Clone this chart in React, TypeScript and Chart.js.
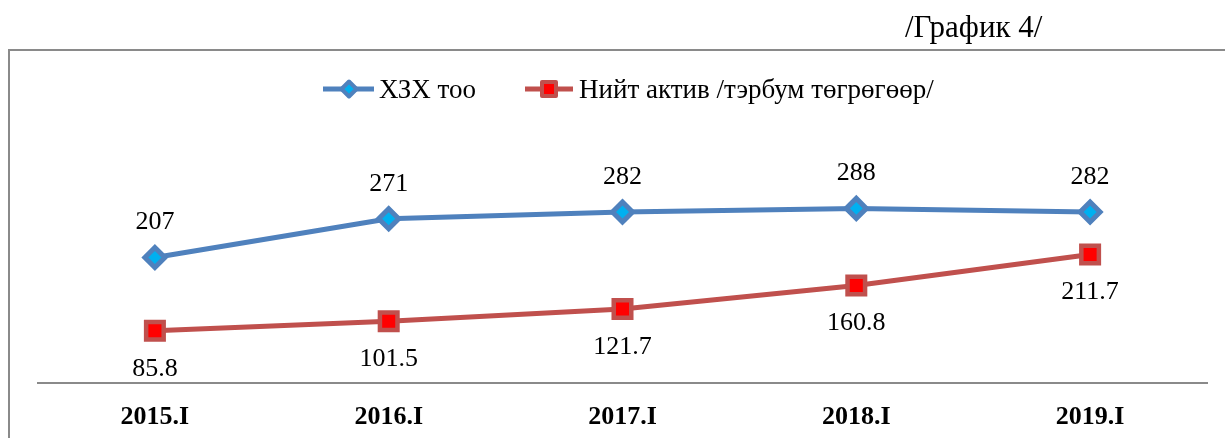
import React, { useEffect, useRef } from "react";
import { Chart, registerables } from "chart.js";

Chart.register(...registerables);

const categories = ["2015.I", "2016.I", "2017.I", "2018.I", "2019.I"];
const countValues = [207, 271, 282, 288, 282];
const assetValues = [85.8, 101.5, 121.7, 160.8, 211.7];
const countLabels = ["207", "271", "282", "288", "282"];
const assetLabels = ["85.8", "101.5", "121.7", "160.8", "211.7"];
const seriesNames = ["ХЗХ тоо", "Нийт актив /тэрбум төгрөгөөр/"];
const chartTitle = "/График 4/";

const FONT = "'Liberation Serif', 'Times New Roman', serif";
const BLUE = "#4F81BD";
const CYAN = "#00B0F0";
const RED = "#C0504D";
const RED_FILL = "#FF0000";

function diamond(ctx: CanvasRenderingContext2D, x: number, y: number, r: number, bw: number) {
  ctx.save();
  ctx.beginPath();
  ctx.moveTo(x - r, y);
  ctx.lineTo(x, y - r);
  ctx.lineTo(x + r, y);
  ctx.lineTo(x, y + r);
  ctx.closePath();
  ctx.fillStyle = CYAN;
  ctx.fill();
  ctx.lineWidth = bw;
  ctx.strokeStyle = BLUE;
  ctx.lineJoin = "round";
  ctx.stroke();
  ctx.restore();
}

function square(ctx: CanvasRenderingContext2D, x: number, y: number, h: number, bw: number) {
  ctx.save();
  ctx.beginPath();
  ctx.rect(x - h, y - h, 2 * h, 2 * h);
  ctx.fillStyle = RED_FILL;
  ctx.fill();
  ctx.lineWidth = bw;
  ctx.strokeStyle = RED;
  ctx.lineJoin = "round";
  ctx.stroke();
  ctx.restore();
}

const decorPlugin = {
  id: "decor",
  beforeDraw(chart: any) {
    const ctx: CanvasRenderingContext2D = chart.ctx;
    ctx.save();
    ctx.strokeStyle = "#8a8a8a";
    ctx.lineWidth = 2;
    ctx.strokeRect(9, 50, 1400, 600);
    ctx.restore();
  },
  afterDraw(chart: any) {
    const ctx: CanvasRenderingContext2D = chart.ctx;
    ctx.save();
    // title
    ctx.fillStyle = "#000";
    ctx.font = `31px ${FONT}`;
    ctx.textAlign = "left";
    ctx.textBaseline = "alphabetic";
    ctx.fillText(chartTitle, 905, 37);

    // legend
    const ly = 89;
    ctx.lineCap = "butt";
    ctx.lineWidth = 5;
    ctx.strokeStyle = BLUE;
    ctx.beginPath();
    ctx.moveTo(323, ly);
    ctx.lineTo(374, ly);
    ctx.stroke();
    diamond(ctx, 349, ly, 7.5, 4);
    ctx.strokeStyle = RED;
    ctx.beginPath();
    ctx.moveTo(525, ly);
    ctx.lineTo(573, ly);
    ctx.stroke();
    square(ctx, 549, ly, 7, 4);
    ctx.fillStyle = "#000";
    ctx.font = `27px ${FONT}`;
    ctx.textBaseline = "middle";
    ctx.fillText(seriesNames[0], 379, ly + 2);
    ctx.fillText(seriesNames[1], 579, ly + 2);

    // data labels
    ctx.font = `26px ${FONT}`;
    ctx.textAlign = "center";
    const m0 = chart.getDatasetMeta(0);
    const m1 = chart.getDatasetMeta(1);
    m0.data.forEach((p: any, i: number) => {
      ctx.fillText(countLabels[i], p.x, p.y - 35);
    });
    m1.data.forEach((p: any, i: number) => {
      ctx.fillText(assetLabels[i], p.x, p.y + 38);
    });
    ctx.restore();
  },
};

export default function App() {
  const ref = useRef<HTMLCanvasElement>(null);
  useEffect(() => {
    if (!ref.current) return;
    const chart = new Chart(ref.current, {
      type: "line",
      data: {
        labels: categories,
        datasets: [
          {
            label: seriesNames[0],
            data: countValues,
            borderColor: BLUE,
            borderWidth: 5,
            backgroundColor: CYAN,
            pointStyle: "rectRot",
            pointRadius: 10,
            pointBorderWidth: 5,
            pointBorderColor: BLUE,
            pointBackgroundColor: CYAN,
            tension: 0,
          },
          {
            label: seriesNames[1],
            data: assetValues,
            borderColor: RED,
            borderWidth: 5,
            backgroundColor: RED_FILL,
            pointStyle: "rect",
            pointRadius: 12.4,
            pointBorderWidth: 4.5,
            pointBorderColor: RED,
            pointBackgroundColor: RED_FILL,
            tension: 0,
          },
        ],
      },
      options: {
        responsive: false,
        maintainAspectRatio: false,
        animation: false,
        layout: { padding: { top: 80, left: 38, right: 18, bottom: -14 } },
        plugins: {
          legend: { display: false },
          title: { display: false },
          tooltip: { enabled: false },
        },
        elements: { line: { borderJoinStyle: "round" } },
        scales: {
          x: {
            offset: true,
            grid: { display: false, drawTicks: false },
            border: { display: true, color: "#8a8a8a", width: 2 },
            ticks: {
              color: "#000",
              padding: 19,
              font: { family: FONT, size: 26, weight: "bold" },
              maxRotation: 0,
            },
          },
          y: {
            display: false,
            min: 0,
            max: 500,
          },
        },
      },
      plugins: [decorPlugin],
    });
    return () => chart.destroy();
  }, []);
  return (
    <div style={{ position: "absolute", left: 0, top: 0, width: 1225, height: 438, background: "#fff" }}>
      <canvas ref={ref} width={1225} height={438} style={{ display: "block" }} />
    </div>
  );
}
